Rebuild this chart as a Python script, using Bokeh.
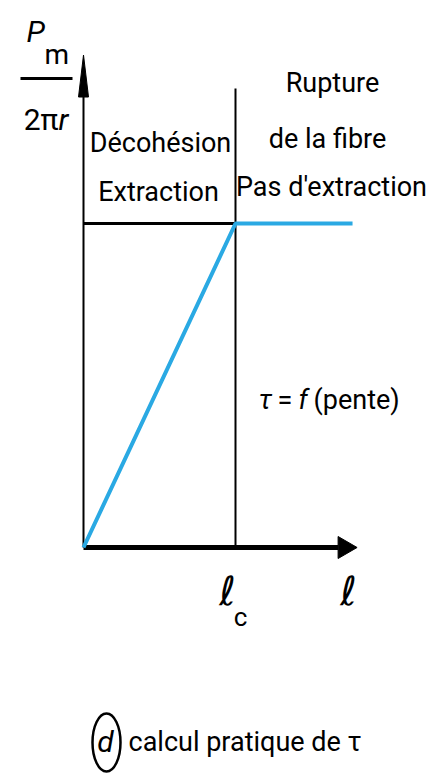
from bokeh.plotting import figure
from bokeh.models import Range1d
from bokeh.core.properties import value
from bokeh.embed import file_html
from bokeh.resources import INLINE

# Pull-out test schematic: Pm/2πr rises linearly with embedded length ℓ
# up to the critical length ℓc, then stays flat (fibre breaks).
length = [0.0, 1.0, 1.77]        # embedded length ℓ, in units of ℓc
load = [0.0, 1.0, 1.0]           # Pm / 2πr, normalised to the plateau
lc = 1.0                         # critical length ℓc
x_axis_end = 1.80
y_axis_end = 1.52
divider_top = 1.417

region_left = ["Décohésion", "Extraction"]
region_right = ["Rupture", "de la fibre", "Pas d'extraction"]
caption = "calcul pratique de τ"

W, H = 436, 773
X0, Y0 = 83.0, 547.0             # origin on the page
SX, SY = 152.0, 324.0            # pixels per data unit


def X(px):
    return (px - X0) / SX


def Y(py):
    return (Y0 - py) / SY


p = figure(width=W, height=H, output_backend="svg", toolbar_location=None,
           x_range=Range1d(X(0), X(W)), y_range=Range1d(Y(H), Y(0)),
           min_border=0)
p.axis.visible = False
p.grid.visible = False
p.outline_line_color = None
p.background_fill_color = "white"
p.border_fill_color = "white"

FS = 27

# axes with arrow heads
head_x_len, head_x_half = 19 / SX, 11 / SY
head_y_len, head_y_half = 42 / SY, 5 / SX
p.line([0, x_axis_end - head_x_len], [0, 0], line_color="black", line_width=5)
p.patch([x_axis_end, x_axis_end - head_x_len, x_axis_end - head_x_len],
        [0, head_x_half, -head_x_half], color="black", line_width=1)
p.line([0, 0], [0, y_axis_end - head_y_len], line_color="black", line_width=2)
p.patch([0, -head_y_half, head_y_half],
        [y_axis_end, y_axis_end - head_y_len, y_axis_end - head_y_len],
        color="black", line_width=1)

# critical-length divider and plateau reference
p.line([lc, lc], [0, divider_top], line_color="black", line_width=2)
p.line([0, lc], [load[1], load[1]], line_color="black", line_width=3)

# measured load curve
p.line(length, load, line_color="#2aa9e3", line_width=4)


def txt(s, px, py, size=FS, align="center", style="normal", font="Roboto"):
    # py is the wanted baseline; lift by the renderer's baseline offset
    p.text(x=[X(px)], y=[Y(py - 0.39 * size)], text=[s], text_font=value(font),
           text_font_size=f"{size}px", text_align=align,
           text_baseline="alphabetic", text_font_style=style,
           text_color="black")


# region labels
txt(region_left[0], 160, 153)
txt(region_left[1], 158, 202)
txt(region_right[0], 332, 93)
txt(region_right[1], 327, 149)
txt(region_right[2], 331, 197)

# slope annotation
txt("τ", 258, 410, align="left", style="italic")
txt("=", 277, 410, align="left")
txt("f", 298, 410, align="left", style="italic")
txt("(pente)", 313, 410, align="left")

# y-axis title: Pm / 2πr
txt("P", 26, 43, size=30, align="left", style="italic")
txt("m", 44, 65, size=28, align="left")
p.line([X(20), X(72)], [Y(78), Y(78)], line_color="black", line_width=3)
txt("2π", 58, 131, size=30, align="right")
txt("r", 58, 131, size=30, align="left", style="italic")

# x-axis labels
txt("ℓ", 227, 606, size=40, font="DejaVu Sans")
txt("c", 240, 627, size=26)
txt("ℓ", 348, 606, size=40, font="DejaVu Sans")

# caption with circled panel letter
p.ellipse(x=[X(106)], y=[Y(742)], width=[28 / SX], height=[58 / SY],
          fill_color=None, line_color="black", line_width=2.5)
txt("d", 105, 753, size=30, style="italic")
txt(caption, 128, 752, align="left")

open("out.html", "w").write(file_html(p, INLINE))
